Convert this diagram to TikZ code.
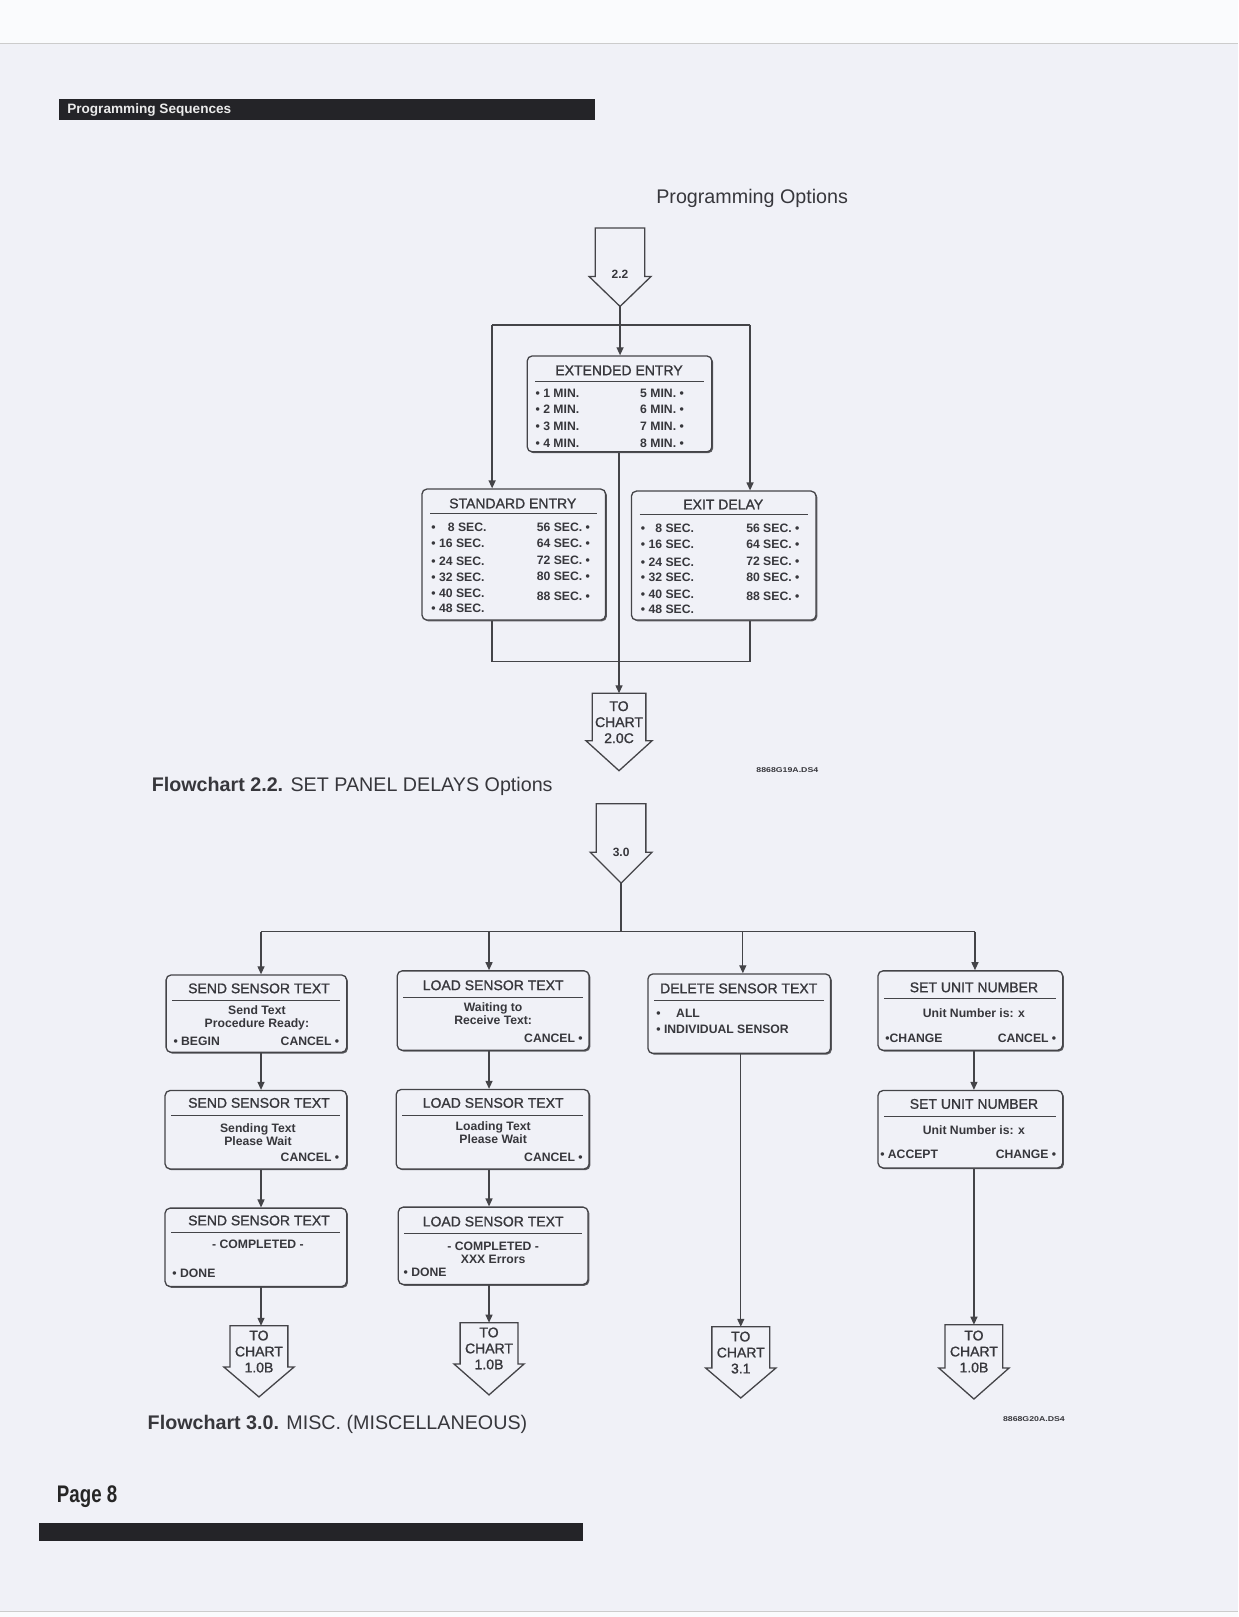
\documentclass[tikz,border=0pt]{standalone}
\usepackage{fontspec}
\setmainfont{Liberation Sans}
\newfontfamily\semib{Liberation Sans}[FakeBold=1.2]
\usetikzlibrary{arrows.meta,fit,shadows}
\definecolor{pagebg}{RGB}{240,241,247}
\definecolor{ink}{RGB}{55,55,60}
\definecolor{linec}{RGB}{68,68,72}
\definecolor{barc}{RGB}{36,36,40}
\newcommand\myfs[1]{\fontsize{#1}{#1}\selectfont}
\newcommand\chartarrow[6]{%
  \draw[ln, fill=pagebg, line join=miter] (#2-#4,#3) -- (#2+#4,#3) -- (#2+#4,#3+#5) -- (#2+#4+6,#3+#5) -- (#2,#3+#6) -- (#2-#4-6,#3+#5) -- (#2-#4,#3+#5) -- cycle;
  \coordinate (#1) at (#2,#3);
  \coordinate (#1-tip) at (#2,#3+#6);}
\begin{document}
\begin{tikzpicture}[x=1.0317pt, y=-1.0317pt,
  every node/.style={text=ink, inner sep=0pt},
  obox/.style={draw=linec, line width=1.3pt, rounded corners=5pt, fill=pagebg,
     drop shadow={shadow xshift=1.3pt, shadow yshift=-1.3pt, fill=linec, opacity=0.85}},
  ttl/.style={font=\semib\myfs{14}},
  itm/.style={font=\fontsize{12.2}{13}\selectfont\bfseries},
  chart/.style={font=\semib\myfs{14}, align=center},
  ln/.style={draw=linec, line width=1.3pt},
  uline/.style={draw=linec, line width=0.9pt},
  arr/.style={draw=linec, line width=1.3pt, -{Triangle[length=8pt,width=7pt]}},
  capt/.style={font=\myfs{19.7}, anchor=west}]
\useasboundingbox (0,0) rectangle (1200,1567.3);
\fill[pagebg] (0,0) rectangle (1200,1567.3);
\fill[white!70!pagebg] (0,0) rectangle (1200,42);
\draw[black!20, line width=1pt] (0,42) -- (1200,42);
\fill[white!70!pagebg] (0,1562) rectangle (1200,1567.3);
\draw[black!20, line width=1pt] (0,1562) -- (1200,1562);

% header
\fill[barc] (57,96) rectangle (577,116);
\node[font=\myfs{13.6}\bfseries, text=white!92!black, anchor=west] (hdr) at (65,106.5) {Programming Sequences};
\node[font=\myfs{19.7}] (popt) at (729,192) {Programming Options};

% ===== Flowchart 2.2 =====
\chartarrow{a22}{601}{221}{24}{47}{76}
\node[font=\myfs{12}\bfseries] (a22t) at (601,266) {2.2};

\node[obox, fit={(511,345) (690,438)}] (ext) {};
\node[ttl] (extt) at (600,359) {EXTENDED ENTRY};
\draw[uline] (519,370) -- (682,370);
\node[itm, anchor=west] (e1) at (519,381) {• 1 MIN.};
\node[itm, anchor=west] (e2) at (519,397) {• 2 MIN.};
\node[itm, anchor=west] (e3) at (519,413) {• 3 MIN.};
\node[itm, anchor=west] (e4) at (519,430) {• 4 MIN.};
\node[itm, anchor=east] (e5) at (663,381) {5 MIN. •};
\node[itm, anchor=east] (e6) at (663,397) {6 MIN. •};
\node[itm, anchor=east] (e7) at (663,413) {7 MIN. •};
\node[itm, anchor=east] (e8) at (663,430) {8 MIN. •};

\node[obox, fit={(409,474) (587,601)}] (std) {};
\node[ttl] (stdt) at (497,488) {STANDARD ENTRY};
\draw[uline] (417,498) -- (579,498);
\node[itm, anchor=west] (s1) at (418,511) {• \phantom{1}\,8 SEC.};
\node[itm, anchor=west] (s2) at (418,527) {• 16 SEC.};
\node[itm, anchor=west] (s3) at (418,544) {• 24 SEC.};
\node[itm, anchor=west] (s4) at (418,560) {• 32 SEC.};
\node[itm, anchor=west] (s5) at (418,575) {• 40 SEC.};
\node[itm, anchor=west] (s6) at (418,590) {• 48 SEC.};
\node[itm, anchor=east] (s7) at (572,511) {56 SEC. •};
\node[itm, anchor=east] (s8) at (572,527) {64 SEC. •};
\node[itm, anchor=east] (s9) at (572,543) {72 SEC. •};
\node[itm, anchor=east] (s10) at (572,559) {80 SEC. •};
\node[itm, anchor=east] (s11) at (572,578) {88 SEC. •};

\node[obox, fit={(612,476) (791,601)}] (exd) {};
\node[ttl] (exdt) at (701,489) {EXIT DELAY};
\draw[uline] (620,499) -- (783,499);
\node[itm, anchor=west] (x1) at (621,512) {• \phantom{1}8 SEC.};
\node[itm, anchor=west] (x2) at (621,528) {• 16 SEC.};
\node[itm, anchor=west] (x3) at (621,545) {• 24 SEC.};
\node[itm, anchor=west] (x4) at (621,560) {• 32 SEC.};
\node[itm, anchor=west] (x5) at (621,576) {• 40 SEC.};
\node[itm, anchor=west] (x6) at (621,591) {• 48 SEC.};
\node[itm, anchor=east] (x7) at (775,512) {56 SEC. •};
\node[itm, anchor=east] (x8) at (775,528) {64 SEC. •};
\node[itm, anchor=east] (x9) at (775,544) {72 SEC. •};
\node[itm, anchor=east] (x10) at (775,560) {80 SEC. •};
\node[itm, anchor=east] (x11) at (775,578) {88 SEC. •};

\chartarrow{a20c}{600}{672}{26}{46}{75}
\node[chart] (a20ct) at (600,700) {TO\\[2pt]CHART\\[2pt]2.0C};

\coordinate (j1) at (601,315);
\coordinate (jl) at (477,315);
\coordinate (jr) at (727,315);
\coordinate (bl) at (477,641);
\coordinate (br) at (727,641);
\draw[ln] (a22-tip) -- (j1);
\draw[ln] (jl) -- (jr);
\draw[arr] (j1) -- (j1 |- ext.north);
\draw[arr] (jl) -- (jl |- std.north);
\draw[arr] (jr) -- (jr |- exd.north);
\draw[ln] (bl |- std.south) -- (bl) -- (br) -- (br |- exd.south);
\draw[arr] (a20c |- ext.south) -- (a20c);

\node[font=\myfs{7}\bfseries, anchor=west] (code1) at (733,746) {\scalebox{1.25}[1]{8868G19A.DS4}};
\node[capt] (cap1) at (147,762) {\textbf{Flowchart 2.2.} SET PANEL DELAYS Options};

% ===== Flowchart 3.0 =====
\chartarrow{a30}{602}{779}{24}{47}{77}
\node[font=\myfs{12}\bfseries] (a30t) at (602,826) {3.0};

\coordinate (h3) at (602,903);
\coordinate (c1) at (253,903);
\coordinate (c2) at (474,903);
\coordinate (c3) at (720,903);
\coordinate (c4) at (945,903);
\draw[ln] (a30-tip) -- (h3);
\draw[ln] (c1) -- (c4);

% column 1
\node[obox, fit={(161,945) (336,1020)}] (send1) {};
\node[ttl] (send1t) at (251,958) {SEND SENSOR TEXT};
\draw[uline] (167,970) -- (330,970);
\node[itm, align=center] (send1b) at (249,987) {Send Text\\Procedure Ready:};
\node[itm, anchor=west] (send1l) at (168,1009) {• BEGIN};
\node[itm, anchor=east] (send1r) at (329,1009) {CANCEL •};

\node[obox, fit={(160,1057) (336,1133)}] (send2) {};
\node[ttl] (send2t) at (251,1069) {SEND SENSOR TEXT};
\draw[uline] (166,1081) -- (330,1081);
\node[itm, align=center] (send2b) at (250,1099.5) {Sending Text\\Please Wait};
\node[itm, anchor=east] (send2r) at (329,1122) {CANCEL •};

\node[obox, fit={(160,1171) (336,1247)}] (send3) {};
\node[ttl] (send3t) at (251,1183) {SEND SENSOR TEXT};
\draw[uline] (166,1195) -- (330,1195);
\node[itm] (send3b) at (250,1206) {- COMPLETED -};
\node[itm, anchor=west] (send3l) at (167,1234) {• DONE};

% column 2
\node[obox, fit={(385,941) (571,1018)}] (load1) {};
\node[ttl] (load1t) at (478,955) {LOAD SENSOR TEXT};
\draw[uline] (391,967) -- (565,967);
\node[itm, align=center] (load1b) at (478,982.5) {Waiting to\\Receive Text:};
\node[itm, anchor=east] (load1r) at (565,1006) {CANCEL •};

\node[obox, fit={(384,1056) (571,1133)}] (load2) {};
\node[ttl] (load2t) at (478,1069) {LOAD SENSOR TEXT};
\draw[uline] (390,1081) -- (565,1081);
\node[itm, align=center] (load2b) at (478,1098) {Loading Text\\Please Wait};
\node[itm, anchor=east] (load2r) at (565,1122) {CANCEL •};

\node[obox, fit={(386,1170) (570,1245)}] (load3) {};
\node[ttl] (load3t) at (478,1184) {LOAD SENSOR TEXT};
\draw[uline] (392,1196) -- (564,1196);
\node[itm, align=center] (load3b) at (478,1214) {- COMPLETED -\\XXX Errors};
\node[itm, anchor=west] (load3l) at (391,1233) {• DONE};

% column 3
\node[obox, fit={(628,944) (805,1021)}] (del) {};
\node[ttl] (delt) at (716,958) {DELETE SENSOR TEXT};
\draw[uline] (634,970) -- (799,970);
\node[itm, anchor=west] (del1) at (636,982) {• \quad ALL};
\node[itm, anchor=west] (del2) at (636,998) {• INDIVIDUAL SENSOR};

% column 4
\node[obox, fit={(851,941) (1030,1018)}] (set1) {};
\node[ttl] (set1t) at (944,957) {SET UNIT NUMBER};
\draw[uline] (857,968) -- (1024,968);
\node[itm] (set1b) at (944,982) {Unit Number is: x};
\node[itm, anchor=west] (set1l) at (858,1006) {•CHANGE};
\node[itm, anchor=east] (set1r) at (1024,1006) {CANCEL •};

\node[obox, fit={(851,1057) (1030,1132)}] (set2) {};
\node[ttl] (set2t) at (944,1070) {SET UNIT NUMBER};
\draw[uline] (857,1082) -- (1024,1082);
\node[itm] (set2b) at (944,1095) {Unit Number is: x};
\node[itm, anchor=west] (set2l) at (853,1119) {• ACCEPT};
\node[itm, anchor=east] (set2r) at (1024,1119) {CHANGE •};

% TO CHART arrows
\chartarrow{to1}{251}{1285}{28}{40}{69}
\node[chart] (to1t) at (251,1310) {TO\\[2pt]CHART\\[2pt]1.0B};
\chartarrow{to2}{474}{1282}{28}{40}{70}
\node[chart] (to2t) at (474,1307) {TO\\[2pt]CHART\\[2pt]1.0B};
\chartarrow{to3}{718}{1286}{28}{40}{69}
\node[chart] (to3t) at (718,1311) {TO\\[2pt]CHART\\[2pt]3.1};
\chartarrow{to4}{944}{1284}{28}{42}{72}
\node[chart] (to4t) at (944,1310) {TO\\[2pt]CHART\\[2pt]1.0B};

% connectors
\draw[arr] (c1) -- (c1 |- send1.north);
\draw[arr] (c2) -- (c2 |- load1.north);
\draw[arr] (c3) -- (c3 |- del.north);
\draw[arr] (c4) -- (c4 |- set1.north);
\draw[arr] (c1 |- send1.south) -- (c1 |- send2.north);
\draw[arr] (c1 |- send2.south) -- (c1 |- send3.north);
\draw[arr] (c1 |- send3.south) -- (c1 |- to1);
\draw[arr] (c2 |- load1.south) -- (c2 |- load2.north);
\draw[arr] (c2 |- load2.south) -- (c2 |- load3.north);
\draw[arr] (c2 |- load3.south) -- (to2);
\draw[arr] (to3 |- del.south) -- (to3);
\draw[arr] (to4 |- set1.south) -- (to4 |- set2.north);
\draw[arr] (to4 |- set2.south) -- (to4);

\node[font=\myfs{7}\bfseries, anchor=west] (code2) at (972,1375) {\scalebox{1.25}[1]{8868G20A.DS4}};
\node[capt] (cap2) at (143,1381) {\textbf{Flowchart 3.0.} MISC. (MISCELLANEOUS)};

% footer
\node[font=\myfs{24}\bfseries, anchor=west, text=black!85] (page) at (55,1451) {\scalebox{0.78}[1]{Page 8}};
\fill[barc] (38,1476) rectangle (565,1494);
\end{tikzpicture}
\end{document}
